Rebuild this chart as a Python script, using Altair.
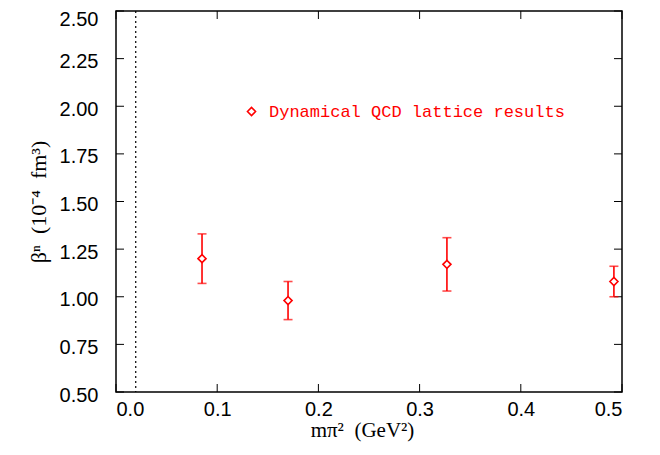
import altair as alt
import pandas as pd

# data
mpi2 = [0.085, 0.170, 0.327, 0.492]
beta = [1.20, 0.98, 1.17, 1.08]
beta_lo = [1.07, 0.88, 1.03, 1.00]
beta_hi = [1.33, 1.08, 1.31, 1.16]
series = ["Dynamical QCD lattice results"] * 4
phys_mpi2 = [0.0195]
x_ticks = [0.0, 0.1, 0.2, 0.3, 0.4, 0.5]
y_ticks = [0.50, 0.75, 1.00, 1.25, 1.50, 1.75, 2.00, 2.25, 2.50]

W, H = 506, 381
TL = 8
NB = "\u00a0"

df = pd.DataFrame({"x": mpi2, "y": beta, "lo": beta_lo, "hi": beta_hi, "s": series})
xt = pd.DataFrame({"v": x_ticks})
yt = pd.DataFrame({"v": y_ticks})
phys = pd.DataFrame({"x": phys_mpi2})

xs = alt.Scale(domain=[0, 0.5], nice=False, zero=False)
ys = alt.Scale(domain=[0.5, 2.5], nice=False, zero=False)

xaxis = alt.Axis(values=x_ticks, format=".1f", title=f"mπ²{NB}{NB}(GeV²)",
                 titleFont="Liberation Serif", titleFontSize=21, titleFontWeight="normal",
                 titlePadding=0, labelPadding=7, titleX=246)
yaxis = alt.Axis(values=y_ticks, format=".2f", title=f"βⁿ{NB}{NB}(10⁻⁴{NB}{NB}fm³)",
                 titleFont="Liberation Serif", titleFontSize=22, titleFontWeight="normal",
                 titlePadding=9, labelPadding=18,
                 labelOffset={"condition": {"test": "datum.value >= 2.49", "value": 8}, "value": 3})

left_ticks = alt.Chart(yt).mark_rule(color="black", strokeWidth=1).encode(
    y=alt.Y("v:Q", scale=ys, axis=yaxis), x=alt.value(0), x2=alt.value(TL))
right_ticks = alt.Chart(yt).mark_rule(color="black", strokeWidth=1).encode(
    y=alt.Y("v:Q", scale=ys, axis=yaxis), x=alt.value(W - TL), x2=alt.value(W))
bottom_ticks = alt.Chart(xt).mark_rule(color="black", strokeWidth=1).encode(
    x=alt.X("v:Q", scale=xs, axis=xaxis), y=alt.value(H), y2=alt.value(H - TL))
top_ticks = alt.Chart(xt).mark_rule(color="black", strokeWidth=1).encode(
    x=alt.X("v:Q", scale=xs, axis=xaxis), y=alt.value(0), y2=alt.value(TL))

dotted = alt.Chart(phys).mark_rule(color="black", strokeWidth=1.2, strokeDash=[2, 3]).encode(
    x=alt.X("x:Q", scale=xs, axis=xaxis))

bars = alt.Chart(df).mark_rule(color="red", strokeWidth=1.6).encode(
    x=alt.X("x:Q", scale=xs, axis=xaxis), y=alt.Y("lo:Q", scale=ys, axis=yaxis), y2="hi:Q")
cap_lo = alt.Chart(df).mark_tick(color="red", orient="horizontal", size=9, thickness=1.6).encode(
    x=alt.X("x:Q", scale=xs, axis=xaxis), y=alt.Y("lo:Q", scale=ys, axis=yaxis))
cap_hi = alt.Chart(df).mark_tick(color="red", orient="horizontal", size=9, thickness=1.6).encode(
    x=alt.X("x:Q", scale=xs, axis=xaxis), y=alt.Y("hi:Q", scale=ys, axis=yaxis))

points = alt.Chart(df).mark_point(shape="diamond", filled=True, fill="white", size=65,
                                  strokeWidth=1.6, opacity=1).encode(
    x=alt.X("x:Q", scale=xs, axis=xaxis),
    y=alt.Y("y:Q", scale=ys, axis=yaxis),
    stroke=alt.Stroke("s:N", scale=alt.Scale(range=["red"]),
                      legend=alt.Legend(title=None, orient="none", legendX=127, legendY=92,
                                        symbolType="diamond", symbolSize=65,
                                        symbolStrokeWidth=1.6, symbolFillColor="white",
                                        labelFont="Liberation Mono", labelFontSize=17,
                                        labelColor="red", labelOffset=9, labelLimit=0,
                                        padding=0)),
)

chart = alt.layer(
    left_ticks, right_ticks, bottom_ticks, top_ticks, dotted, bars, cap_lo, cap_hi, points
).properties(
    width=W, height=H,
    autosize=alt.AutoSizeParams(type="none"),
    padding={"left": 108, "top": 3, "right": 20, "bottom": 60},
).configure(
    background="white"
).configure_view(
    stroke="black", strokeWidth=1.5
).configure_axis(
    grid=False, ticks=False, domain=False,
    labelFont="Liberation Sans", labelFontSize=20, labelColor="black",
    titleColor="black",
)

chart.save("out.html", embed_options={"renderer": "svg", "actions": False})
